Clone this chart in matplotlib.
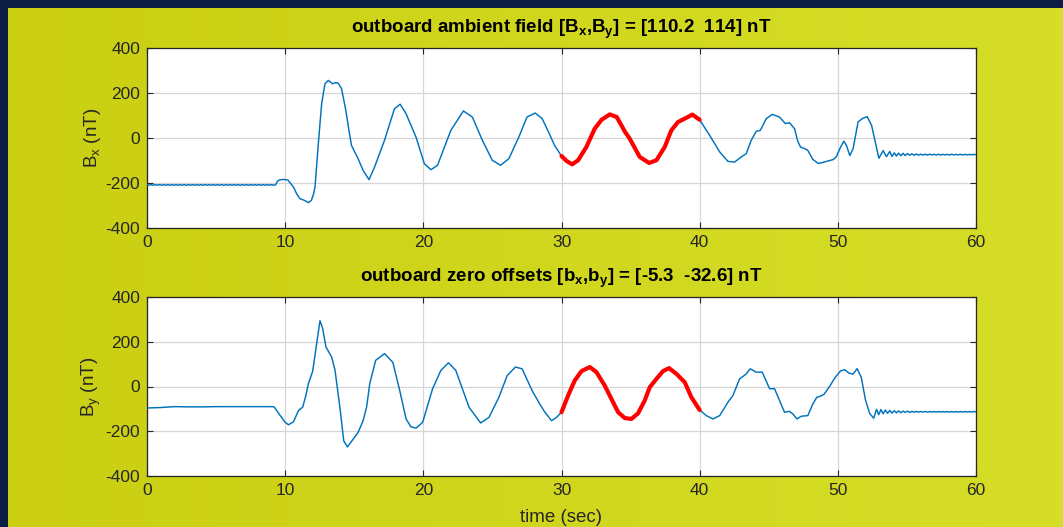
import numpy as np
import matplotlib
matplotlib.use("Agg")
import matplotlib.pyplot as plt

plt.rcParams['font.family'] = ['Liberation Sans', 'DejaVu Sans']
plt.rcParams['mathtext.fontset'] = 'custom'
plt.rcParams['mathtext.rm'] = 'Liberation Sans'
plt.rcParams['mathtext.bf'] = 'Liberation Sans:bold'
plt.rcParams['mathtext.default'] = 'rm'
plt.rcParams['axes.unicode_minus'] = False

# ---------------- data ----------------
bx_time = [0.00, 0.15, 0.30, 0.45, 0.60, 0.75, 0.90, 1.05, 1.20, 1.35, 1.50, 1.65, 1.80, 1.95,
           2.10, 2.25, 2.40, 2.55, 2.70, 2.85, 3.00, 3.15, 3.30, 3.45, 3.60, 3.75, 3.90, 4.05,
           4.20, 4.35, 4.50, 4.65, 4.80, 4.95, 5.10, 5.25, 5.40, 5.55, 5.70, 5.85, 6.00, 6.15,
           6.30, 6.45, 6.60, 6.75, 6.90, 7.05, 7.20, 7.35, 7.50, 7.65, 7.80, 7.95, 8.10, 8.25,
           8.40, 8.55, 8.70, 8.85, 9.00, 9.15, 9.30,
           9.45, 9.60, 9.90, 10.20, 10.60, 10.85, 11.08, 11.35, 11.68, 11.90, 12.05, 12.16,
           12.40, 12.64, 12.88, 13.12, 13.30, 13.43, 13.65, 13.84, 14.08, 14.39, 14.60, 14.80,
           15.28, 15.64, 16.07, 16.47, 17.19, 17.91, 18.32, 18.75, 19.47, 20.07, 20.55, 21.03,
           21.99, 22.90, 23.55, 24.27, 24.99, 25.59, 26.19, 26.91, 27.50, 28.10, 28.60, 29.06,
           29.50, 30.00, 30.36, 30.77, 31.20, 31.80, 32.40, 32.90, 33.50, 34.00, 34.60, 34.90,
           35.66, 36.34, 36.87, 37.47, 37.95, 38.43, 39.04, 39.47, 40.00, 40.72, 41.45, 42.05,
           42.53, 43.01, 43.37, 43.73, 44.10, 44.39, 44.82, 45.25, 45.78, 46.20, 46.50, 46.87,
           47.10, 47.30, 47.59, 47.83, 48.19, 48.58, 48.94, 49.66, 49.90, 50.14, 50.43, 50.62,
           50.87, 51.10, 51.47, 51.79, 52.12, 52.44, 52.68, 52.97, 53.28, 53.52, 53.76,
           53.92, 54.08, 54.24, 54.40, 54.56, 54.72, 54.88, 55.04, 55.20, 55.36, 55.52, 55.68,
           55.84, 56.00, 56.16, 56.32, 56.48, 56.64, 56.80, 56.96, 57.12, 57.28, 57.44, 57.60,
           57.76, 57.92, 58.08, 58.24, 58.40, 58.56, 58.72, 58.88, 59.04, 59.20, 59.36, 59.52,
           59.68, 59.84, 60.00]
bx_value = [-207, -210, -207, -210, -207, -210, -207, -210, -207, -210, -207, -210, -207, -210,
            -207, -210, -207, -210, -207, -210, -207, -210, -207, -210, -207, -210, -207, -210,
            -207, -210, -207, -210, -207, -210, -207, -210, -207, -210, -207, -210, -207, -210,
            -207, -210, -207, -210, -207, -210, -207, -210, -207, -210, -207, -210, -207, -210,
            -207, -210, -207, -210, -207, -210, -208,
            -192, -186, -184, -187, -218, -250, -270, -276, -287, -277, -250, -218,
            -25, 152, 241, 256, 248, 241, 246, 244, 219, 123, 40, -33,
            -92, -144, -185, -129, -10, 130, 150, 108, 4, -114, -141, -121,
            34, 120, 93, -10, -99, -121, -92, 4, 93, 111, 86, 27,
            -33, -80, -102, -117, -99, -40, 41, 81, 105, 93, 27, 1,
            -84, -111, -99, -40, 34, 71, 90, 104, 81, 12, -62, -104,
            -107, -84, -70, -10, 30, 34, 86, 105, 93, 64, 68, 41,
            -15, -40, -47, -55, -95, -113, -108, -96, -83, -48, -14, -33,
            -78, -48, 72, 87, 95, 57, -10, -90, -56, -83, -60,
            -82, -66, -80, -67, -79, -68, -78, -69, -77, -70, -77, -71,
            -76, -72, -76, -72, -76, -72, -75.5, -72.5, -75.5, -72.5, -75.5, -72.5,
            -75.5, -72.5, -75.5, -72.5, -75, -73, -75, -73, -75, -73, -75, -73,
            -75, -73, -74]

by_time = [0.0, 0.5, 1.0, 1.5, 2.0, 3.0, 4.0, 5.0, 6.0, 7.0, 8.0, 9.0, 9.2, 9.64, 10.0,
           10.24, 10.6, 10.96, 11.27, 11.5, 11.68, 11.99, 12.28, 12.52, 12.71, 12.95, 13.36,
           13.6, 13.96, 14.24, 14.51, 14.92, 15.28, 15.64, 15.9, 16.12, 16.55, 17.19, 17.79,
           18.27, 18.75, 19.1, 19.47, 19.95, 20.67, 21.27, 21.82, 22.35, 23.31, 24.15, 24.75,
           25.47, 26.07, 26.67, 27.15, 27.87, 28.44, 28.8, 29.28, 29.64, 30.0, 30.48, 30.96,
           31.45, 32.05, 32.53, 33.13, 33.61, 34.1, 34.58, 35.06, 35.54, 36.02, 36.39, 36.87,
           37.35, 37.78, 38.31, 38.92, 39.4, 40.0, 40.48, 40.96, 41.45, 42.05, 42.41, 42.89,
           43.33, 43.66, 44.1, 44.53, 45.06, 45.42, 45.78, 46.14, 46.5, 46.75, 47.04, 47.35,
           47.83, 48.19, 48.48, 48.67, 49.0, 49.4, 49.8, 50.2, 50.5, 50.8, 51.1, 51.4, 51.7,
           52.0, 52.3, 52.6, 52.8, 52.96, 53.12, 53.28, 53.44, 53.6, 53.76, 53.92, 54.08, 54.24,
           54.4, 54.56, 54.72, 54.88, 55.04, 55.2, 55.36, 55.52, 55.68, 55.84, 56.0, 56.16,
           56.32, 56.48, 56.64, 56.8, 56.96, 57.12, 57.28, 57.44, 57.6, 57.76, 57.92, 58.08,
           58.24, 58.4, 58.56, 58.72, 58.88, 59.04, 59.2, 59.36, 59.52, 59.68, 59.84, 60.0]
by_value = [-96, -95, -94, -92, -90, -91, -91, -90, -90, -90, -90, -90, -91, -130, -160,
            -171, -158, -108, -92, -40, 12, 68, 192, 294, 260, 177, 132,
            76, -93, -243, -270, -235, -205, -153, -90, 12, 117, 147, 108,
            -12, -145, -180, -186, -160, -10, 72, 106, 72, -93, -163, -138,
            -48, 49, 87, 79, -18, -80, -115, -153, -138, -115, -40, 27,
            69, 87, 64, 4, -55, -115, -141, -145, -120, -63, -3, 34,
            69, 82, 57, 19, -48, -105, -130, -145, -130, -70, -40, 34,
            54, 79, 64, 64, -10, -10, -63, -115, -111, -123, -145, -133,
            -130, -78, -48, -45, -35, 0, 40, 70, 75, 60, 55, 80, 40,
            -60, -120, -142, -102, -126, -103, -122, -105, -120, -107, -119, -108, -118,
            -109, -117, -110, -116, -110, -116, -111, -115, -111, -115, -111.5, -114.5,
            -111.5, -114.5, -112, -114, -112, -114, -112, -114, -112, -114, -112, -114,
            -112, -114, -112, -114, -112, -114, -112, -114, -112, -114, -112, -113]

sel_start, sel_end = 30.0, 40.0
titles = ['outboard ambient field [B$_\\mathbf{x}$,B$_\\mathbf{y}$] = [110.2  114] nT',
          'outboard zero offsets [b$_\\mathbf{x}$,b$_\\mathbf{y}$] = [-5.3  -32.6] nT']
ylabels = ['B$_\\mathrm{x}$ (nT)', 'B$_\\mathrm{y}$ (nT)']
xlabel = 'time (sec)'
xticks = [0, 10, 20, 30, 40, 50, 60]
yticks = [-400, -200, 0, 200, 400]

# ---------------- figure ----------------
W, H = 1063, 527
fig = plt.figure(figsize=(W / 100, H / 100), dpi=100)
fig.patch.set_facecolor('#0c1d44')

# yellow backdrop with a mild left-to-right gradient
bg = fig.add_axes([8 / W, 0, 1 - 8 / W, 1 - 8 / H])
bg.set_axis_off()
grad = np.linspace(0, 1, 256)[None, :]
c0 = np.array([202, 207, 18]) / 255
c1 = np.array([214, 222, 40]) / 255
img = c0[None, None, :] * (1 - grad[..., None]) + c1[None, None, :] * grad[..., None]
img = np.concatenate([img, img], axis=0)
bg.imshow(img, aspect='auto', extent=[0, 1, 0, 1])
bg.set_xlim(0, 1)
bg.set_ylim(0, 1)

ink = '#262626'
line_blue = '#0072BD'
ax_left, ax_right = 147 / W, 976 / W
positions = [(48, 228), (297, 476)]
series = [(bx_time, bx_value), (by_time, by_value)]

for i, ((top, bot), (tt, vv)) in enumerate(zip(positions, series)):
    ax = fig.add_axes([ax_left, 1 - bot / H, ax_right - ax_left, (bot - top) / H])
    ax.set_facecolor('white')
    t = np.array(tt, dtype=float)
    v = np.array(vv, dtype=float)
    ax.plot(t, v, color=line_blue, lw=1.05, zorder=3)
    m = (t >= sel_start) & (t <= sel_end)
    ax.plot(t[m], v[m], color='#FF0000', lw=3.0, zorder=4,
            solid_capstyle='round', solid_joinstyle='round')
    ax.set_xlim(0, 60)
    ax.set_ylim(-400, 400)
    ax.set_xticks(xticks)
    ax.set_yticks(yticks)
    ax.grid(True, color='#d6d6d6', lw=0.9)
    ax.set_axisbelow(True)
    ax.tick_params(direction='in', length=4.5, width=0.8, colors=ink,
                   labelsize=12.5, top=True, right=True, pad=5)
    for s in ax.spines.values():
        s.set_color(ink)
        s.set_linewidth(0.9)
    ax.set_title(titles[i], fontsize=13.5, fontweight='bold', color='black', pad=11)
    ax.set_ylabel(ylabels[i], fontsize=13.5, color=ink, labelpad=2)
    if i == 1:
        ax.set_xlabel(xlabel, fontsize=13.5, color=ink, labelpad=8)

fig.savefig('out.png', dpi=100, facecolor=fig.get_facecolor())
